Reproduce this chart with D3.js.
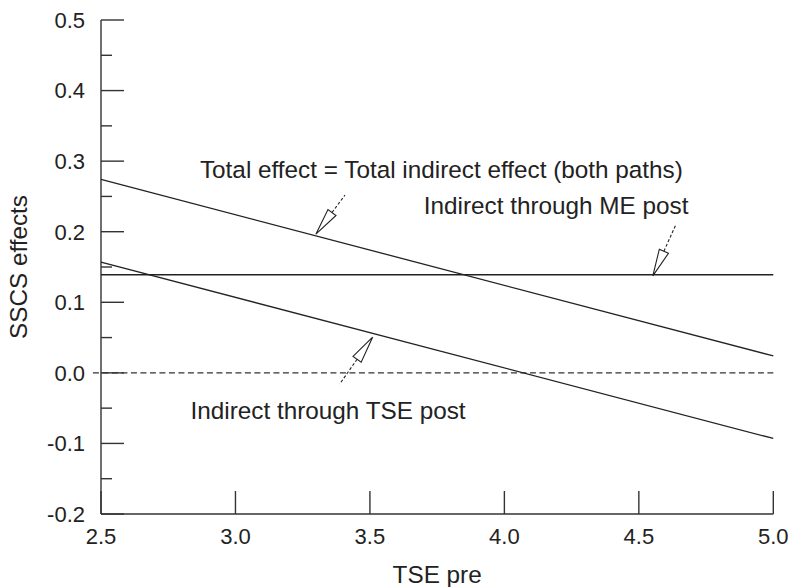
<!DOCTYPE html>
<html>
<head>
<meta charset="utf-8">
<script src="https://cdn.jsdelivr.net/npm/d3@7/dist/d3.min.js"></script>
<style>
  html, body { margin: 0; padding: 0; background: #fff; }
  svg { display: block; }
  text { font-family: "Liberation Sans", Arial, Helvetica, sans-serif; fill: #222; }
</style>
</head>
<body>
<svg id="chart" width="788" height="587"></svg>
<script>
// ---- data ----
const xTicks = [2.5, 3.0, 3.5, 4.0, 4.5, 5.0];
const yTicks = [-0.2, -0.1, 0.0, 0.1, 0.2, 0.3, 0.4, 0.5];
const yMinorTicks = [-0.15, -0.05, 0.05, 0.15, 0.25, 0.35, 0.45];
const xTitle = "TSE pre";
const yTitle = "SSCS effects";

const totalEffect = [[2.5, 0.274], [5.0, 0.024]];
const indirectME  = [[2.5, 0.139], [5.0, 0.139]];
const indirectTSE = [[2.5, 0.157], [5.0, -0.093]];
const zeroLine    = [[2.47, 0.0], [5.0, 0.0]];

const labelTexts = ["Total effect = Total indirect effect (both paths)", "Indirect through ME post", "Indirect through TSE post"];
const labelX = [2.868, 3.700, 2.833];
const labelY = [0.2763, 0.2249, -0.0656];

// arrows: tip (x,y) and tail (x,y) in data units
const arrowTipX  = [3.299, 4.552, 3.510];
const arrowTipY  = [0.1965, 0.1375, 0.0506];
const arrowTailX = [3.407, 4.638, 3.388];
const arrowTailY = [0.2518, 0.2103, -0.0156];

// ---- layout ----
const svg = d3.select("#chart");
const x = d3.scaleLinear().domain([2.5, 5.0]).range([101, 773.3]);
const y = d3.scaleLinear().domain([-0.2, 0.5]).range([514, 20]);
const ink = "#222";
const fmt = d => d3.format(".1f")(d).replace("\u2212", "-");

// axes lines
const gAxis = svg.append("g").attr("stroke", "#333").attr("stroke-width", 1.4).attr("fill", "none");
gAxis.append("line").attr("x1", x(2.5)).attr("x2", x(2.5)).attr("y1", y(0.5)).attr("y2", y(-0.2));
gAxis.append("line").attr("x1", x(2.5)).attr("x2", x(5.0)).attr("y1", y(-0.2)).attr("y2", y(-0.2));

// y ticks (inward)
gAxis.selectAll(".ymaj").data(yTicks).join("line")
  .attr("x1", x(2.5)).attr("x2", x(2.5) + 23)
  .attr("y1", d => y(d)).attr("y2", d => y(d));
gAxis.selectAll(".ymin").data(yMinorTicks).join("line")
  .attr("x1", x(2.5)).attr("x2", x(2.5) + 11)
  .attr("y1", d => y(d)).attr("y2", d => y(d));
// x ticks (inward / up)
gAxis.selectAll(".xmaj").data(xTicks).join("line")
  .attr("x1", d => x(d)).attr("x2", d => x(d))
  .attr("y1", y(-0.2)).attr("y2", y(-0.2) - 23);

// tick labels
svg.append("g").selectAll("text").data(yTicks).join("text")
  .attr("x", x(2.5) - 16).attr("y", d => y(d))
  .attr("dy", "0.36em").attr("text-anchor", "end")
  .attr("font-size", 22).text(d => fmt(d));
svg.append("g").selectAll("text").data(xTicks).join("text")
  .attr("x", d => x(d)).attr("y", y(-0.2) + 30)
  .attr("text-anchor", "middle")
  .attr("font-size", 22).text(d => fmt(d));

// axis titles
svg.append("text").attr("x", (x(2.5) + x(5.0)) / 2).attr("y", 583)
  .attr("text-anchor", "middle").attr("font-size", 24.3).text(xTitle);
svg.append("text").attr("transform", `translate(27, ${267}) rotate(-90)`)
  .attr("text-anchor", "middle").attr("font-size", 24.3).text(yTitle);

// lines
const line = d3.line().x(d => x(d[0])).y(d => y(d[1]));
const gl = svg.append("g").attr("fill", "none").attr("stroke", ink).attr("stroke-width", 1.3);
gl.append("path").attr("d", line(zeroLine)).attr("stroke", "#333").attr("stroke-width", 1.4).attr("stroke-dasharray", "6,3.5");
gl.append("path").attr("d", line(totalEffect));
gl.append("path").attr("d", line(indirectME));
gl.append("path").attr("d", line(indirectTSE));

// labels
svg.append("g").selectAll("text").data(labelTexts).join("text")
  .attr("x", (d, i) => x(labelX[i])).attr("y", (d, i) => y(labelY[i]))
  .attr("font-size", 24.3).text(d => d);

// arrows
const ga = svg.append("g").attr("stroke", ink).attr("stroke-width", 1.1);
arrowTipX.forEach((_, i) => {
  const tx = x(arrowTipX[i]), ty = y(arrowTipY[i]);
  const sx = x(arrowTailX[i]), sy = y(arrowTailY[i]);
  const L = Math.hypot(sx - tx, sy - ty);
  const ux = (sx - tx) / L, uy = (sy - ty) / L;
  const nx = -uy, ny = ux;
  const headLen = 27, halfW = 5;
  const bx = tx + ux * headLen, by = ty + uy * headLen;
  ga.append("path")
    .attr("d", `M${tx},${ty}L${bx + nx * halfW},${by + ny * halfW}L${bx - nx * halfW},${by - ny * halfW}Z`)
    .attr("fill", "#fff");
  ga.append("line").attr("x1", bx).attr("y1", by).attr("x2", sx).attr("y2", sy)
    .attr("stroke-dasharray", "3,2");
});
</script>
</body>
</html>
